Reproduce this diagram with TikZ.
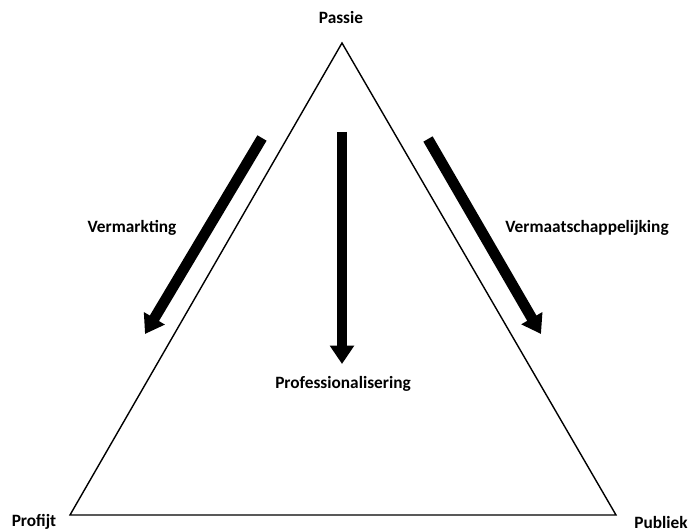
\documentclass[tikz,border=0pt]{standalone}
\usepackage{fontspec}
\setmainfont{Carlito}
\usetikzlibrary{arrows.meta}
\tikzset{
  lbl/.style={font=\bfseries\fontsize{12.3}{14}\selectfont, inner sep=0pt},
  bigarrow/.style={line width=7.6pt, -{Triangle[width=16.5pt, length=13pt]}}
}
\begin{document}
\begin{tikzpicture}[x=0.025cm, y=-0.025cm]
   \useasboundingbox (0,0) rectangle (693,531);
   % corners of the triangle
   \coordinate (top) at (342,43);
   \coordinate (left) at (70,515);
   \coordinate (right) at (616,515);
   \draw[line width=1pt, line join=miter] (top) -- (left) -- (right) -- cycle;
   % corner labels
   \node[lbl] (passie) at (341,17) {Passie};
   \node[lbl] (profijt) at (34,522) {Profijt};
   \node[lbl] (publiek) at (661,522) {Publiek};
   % arrows
   \coordinate (a1) at (262,138);
   \coordinate (b1) at (145,334);
   \coordinate (a2) at (342,132);
   \coordinate (b2) at (342,364);
   \coordinate (a3) at (428,139);
   \coordinate (b3) at (541,334);
   \draw[bigarrow] (a1) -- (b1);
   \draw[bigarrow] (a2) -- (b2);
   \draw[bigarrow] (a3) -- (b3);
   \node[lbl] (markt) at (132,228) {Vermarkting};
   \node[lbl] (maatsch) at (587,228) {Vermaatschappelijking};
   \node[lbl] (prof) at (343,384) {Professionalisering};
\end{tikzpicture}
\end{document}
